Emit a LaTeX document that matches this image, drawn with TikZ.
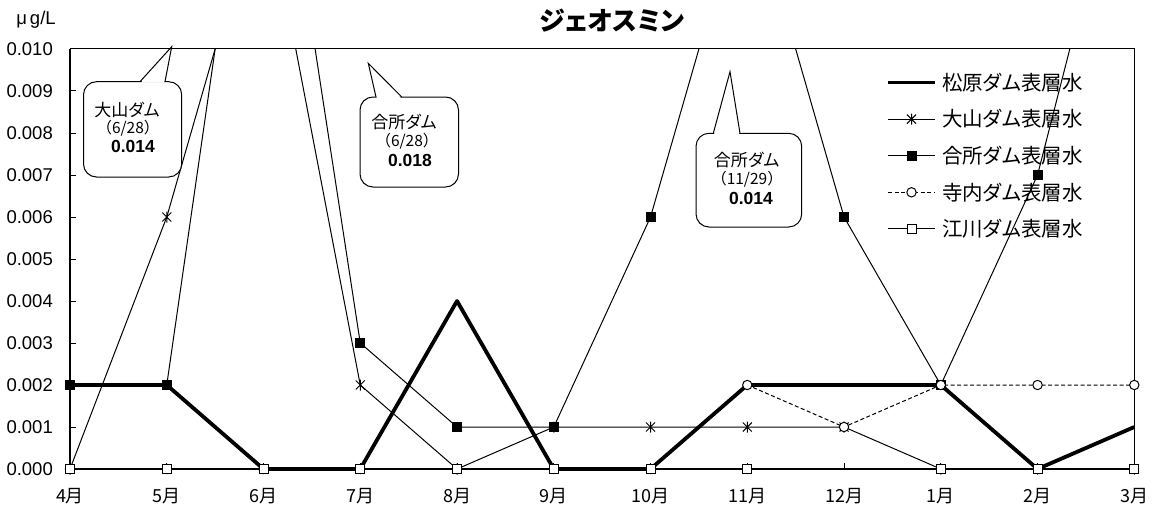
\documentclass[tikz,border=0pt]{standalone}
\usepackage{fontspec}
\setmainfont{Liberation Sans}
\newfontfamily\jp{Noto Sans CJK JP}
\newfontfamily\jpp{Noto Sans CJK JP}[RawFeature=+palt]
\begin{document}
\begin{tikzpicture}[x=1pt,y=-1pt,
  serthin/.style={line width=1pt, line join=round},
  serthick/.style={line width=3.8pt, line join=round},
  serdash/.style={line width=1pt, dash pattern=on 4pt off 2.5pt},
  frameline/.style={line width=1pt},
  axisline/.style={line width=1.8pt},
  ylab/.style={anchor=east, inner sep=0pt, font=\fontsize{18.5}{20}\selectfont},
  mlabel/.style={inner sep=0pt, font=\jp\fontsize{18}{20}\selectfont},
  legtext/.style={anchor=west, inner sep=0pt, font=\jpp\fontsize{20.5}{22}\selectfont},
  callbox/.style={draw, fill=white, line width=1pt, rounded corners=13pt},
  tailline/.style={line width=1pt, line join=miter},
  cjp/.style={inner sep=0pt, font=\jpp\fontsize{17}{19}\selectfont},
  cparen/.style={inner sep=0pt, font=\jp\fontsize{15.5}{17}\selectfont},
  cnum/.style={inner sep=0pt, font=\bfseries\fontsize{17.5}{19}\selectfont},
  mast/.pic={\draw[line width=1pt] (-4.5pt,-4.5pt)--(4.5pt,4.5pt) (-4.5pt,4.5pt)--(4.5pt,-4.5pt) (0pt,-5.5pt)--(0pt,5.5pt);},
  mfsq/.pic={\fill[black] (-5pt,-5pt) rectangle (5pt,5pt);},
  mocirc/.pic={\draw[line width=1pt, fill=white] (0pt,0pt) circle (4.7pt);},
  mosq/.pic={\draw[line width=1pt, fill=white] (-4.5pt,-4.5pt) rectangle (4.5pt,4.5pt);}
]
\useasboundingbox (0,0) rectangle (1157,511);
\fill[white] (0,0) rectangle (1157,511);

% title and unit
\node[font=\jpp\bfseries\fontsize{26}{28}\selectfont, inner sep=0pt] (title) at (612,21) {ジェオスミン};
\node[inner sep=0pt, font=\fontsize{18.5}{20}\selectfont] (unit) at (36,20) {μ\hspace{3pt}g/L};

% plot frame and axes
\draw[frameline] (70,49) rectangle (1134.3,469);
\draw[axisline] (70,49) -- (70,469) -- (1134.3,469);
\foreach \k/\t in {0/0.000,1/0.001,2/0.002,3/0.003,4/0.004,5/0.005,6/0.006,7/0.007,8/0.008,9/0.009,10/0.010}{
  \draw[line width=1pt] (70,469-42*\k) -- (76,469-42*\k);
  \node[ylab] (ylab\k) at (53,469-42*\k) {\t};
}
\foreach \i/\m in {0/4,1/5,2/6,3/7,4/8,5/9,6/10,7/11,8/12,9/1,10/2,11/3}{
  \draw[line width=1pt] (70+96.7545*\i,469) -- (70+96.7545*\i,463);
  \node[mlabel] (mlab\i) at (70+96.7545*\i,496.5) {\m 月};
}

% data lines (clipped at the top of the plot area)
\begin{scope}
\clip (0,49) rectangle (1157,511);
\begin{scope}[shift={(70,469)}, x=96.7545pt, y=42pt]
\draw[serthick] plot coordinates {(0,2) (1,2) (2,0) (3,0) (4,4) (5,0) (6,0) (7,2) (8,2) (9,2) (10,0) (11,1)};
\draw[serthin] plot coordinates {(0,0) (1,6) (2,14) (3,2) (4,0) (5,1) (6,1) (7,1) (8,1) (9,0) (10,0) (11,0)};
\draw[serthin] plot coordinates {(0,2) (1,2) (2,18) (3,3) (4,1) (5,1) (6,6) (7,14) (8,6) (9,2) (10,7) (11,16)};
\draw[serdash] plot coordinates {(0,0) (1,0) (2,0) (3,0) (4,0) (5,0) (6,0) (7,2) (8,1) (9,2) (10,2) (11,2)};
\draw[serthin] plot coordinates {(0,0) (11,0)};
\end{scope}
\end{scope}

% markers
\begin{scope}[shift={(70,469)}, x=96.7545pt, y=42pt]
\foreach \p in {(0,0),(1,6),(3,2),(4,0),(5,1),(6,1),(7,1),(8,1),(9,0),(10,0),(11,0)} \pic at \p {mast};
\foreach \p in {(0,2),(1,2),(3,3),(4,1),(5,1),(6,6),(8,6),(9,2),(10,7)} \pic at \p {mfsq};
\foreach \p in {(0,0),(1,0),(2,0),(3,0),(4,0),(5,0),(6,0),(7,2),(8,1),(9,2),(10,2),(11,2)} \pic at \p {mocirc};
\foreach \p in {(0,0),(1,0),(2,0),(3,0),(4,0),(5,0),(6,0),(7,0),(9,0),(10,0),(11,0)} \pic at \p {mosq};
\end{scope}

% legend
\draw[serthick] (888,82.5) -- (935,82.5);
\node[legtext] (leg1) at (942,82.5) {松原ダム表層水};
\draw[serthin] (888,119.1) -- (935,119.1);
\pic at (911.5,119.1) {mast};
\node[legtext] (leg2) at (942,119.1) {大山ダム表層水};
\draw[serthin] (888,155.7) -- (935,155.7);
\pic at (911.5,155.7) {mfsq};
\node[legtext] (leg3) at (942,155.7) {合所ダム表層水};
\draw[serdash] (888,192.3) -- (935,192.3);
\pic at (911.5,192.3) {mocirc};
\node[legtext] (leg4) at (942,192.3) {寺内ダム表層水};
\draw[serthin] (888,228.9) -- (935,228.9);
\pic at (911.5,228.9) {mosq};
\node[legtext] (leg5) at (942,228.9) {江川ダム表層水};

% callout 1
\draw[callbox] (83.5,81.7) rectangle (181.7,177);
\fill[white] (140.9,82.7) -- (171.7,46.7) -- (164.2,82.7) -- cycle;
\draw[tailline] (140,81.7) -- (171.7,46.7) -- (165,81.7);
\node[cjp] (c1a) at (127,110) {大山ダム};
\node[cparen] (c1b) at (128,128.5) {（6/28）};
\node[cnum] (c1c) at (133,146.7) {0.014};

% callout 2
\draw[callbox] (360,97) rectangle (458.5,187);
\fill[white] (376.8,98) -- (368.3,63.3) -- (400.9,98) -- cycle;
\draw[tailline] (376,97) -- (368.3,63.3) -- (401.7,97);
\node[cjp] (c2a) at (404,121.7) {合所ダム};
\node[cparen] (c2b) at (407,141.2) {（6/28）};
\node[cnum] (c2c) at (410,160) {0.018};

% callout 3
\draw[callbox] (696,133.3) rectangle (801.7,227);
\fill[white] (714.1,134.3) -- (730,71.7) -- (739.2,134.3) -- cycle;
\draw[tailline] (713.3,133.3) -- (730,71.7) -- (740,133.3);
\node[cjp] (c3a) at (746.7,160) {合所ダム};
\node[cparen] (c3b) at (747,179.5) {（11/29）};
\node[cnum] (c3c) at (751,198.3) {0.014};
\end{tikzpicture}
\end{document}
